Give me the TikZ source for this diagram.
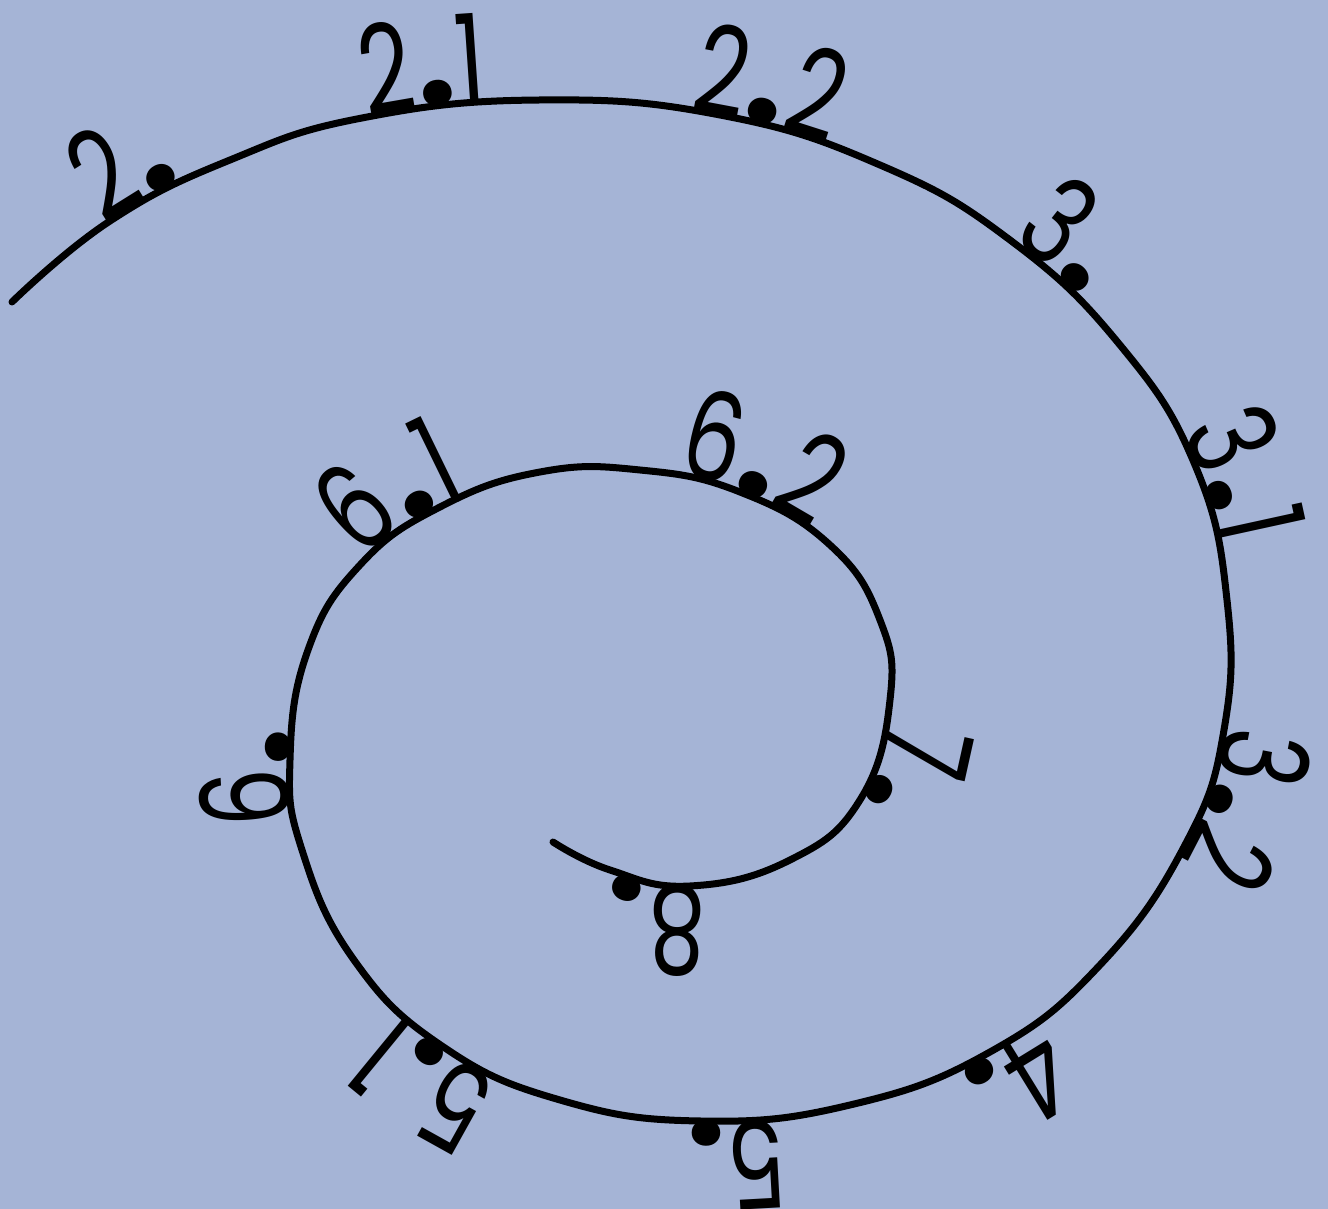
\documentclass[tikz,border=0pt]{standalone}
\usepackage{fontspec}
\usepackage{tikz}
\usetikzlibrary{decorations.text}
\newfontfamily\labelfont[FakeStretch=0.74]{Poppins}
\newfontfamily\dotfont{Poppins}
\protected\def\spiralfont{\labelfont\fontsize{35}{40}\selectfont}
% the round dot of the labels, one character on the path
\protected\def\bigdot{{\dotfont\bfseries\fontsize{40}{44}\selectfont.}}
\definecolor{slatebg}{RGB}{165,180,214}

% one line from the outer end to the inner end
\newcommand{\spiralpath}{plot[smooth, tension=0.75] coordinates {
    (12,302) (110,221) (230,160) (362,118) (540,100) (720,115) (880,165)
    (1010,240) (1120,345) (1195,465) (1227,600) (1224,730) (1185,845)
    (1100,965) (990,1052) (850,1105) (700,1121) (560,1100) (442,1046)
    (354,960) (302,850) (290,760) (308,650) (360,565) (440,507) (540,472)
    (640,470) (740,492) (830,545) (880,620) (890,700) (860,800) (790,860)
    (690,886) (610,870) (553,842)}}

\begin{document}
\begin{tikzpicture}[
        x=0.1mm, y=-0.1mm,
        spiral/.style={draw=black, line width=0.7mm, line cap=round},
        tag/.style 2 args={decorate, decoration={text along path,
            text align={left indent=#1mm},
            text/.expanded={|\spiralfont|#2}}}
    ]

    \fill[slatebg] (0,0) rectangle (1328,1209);

    \draw[spiral] \spiralpath;

    % labels, by distance along the line (mm)
    \foreach \ind/\lab in {12.0/2\bigdot, 40.7/2\bigdot1, 73.0/2\bigdot2,
        108.0/3\bigdot, 133.8/3\bigdot1, 163.8/3\bigdot2, 199.7/4\bigdot,
        227.4/5\bigdot, 256.0/5\bigdot1, 290.3/6\bigdot, 318.5/6\bigdot1,
        352.2/6\bigdot2, 388.6/7\bigdot, 415.5/8\bigdot}
        \path[tag={\ind}{\lab}] \spiralpath;

\end{tikzpicture}
\end{document}
